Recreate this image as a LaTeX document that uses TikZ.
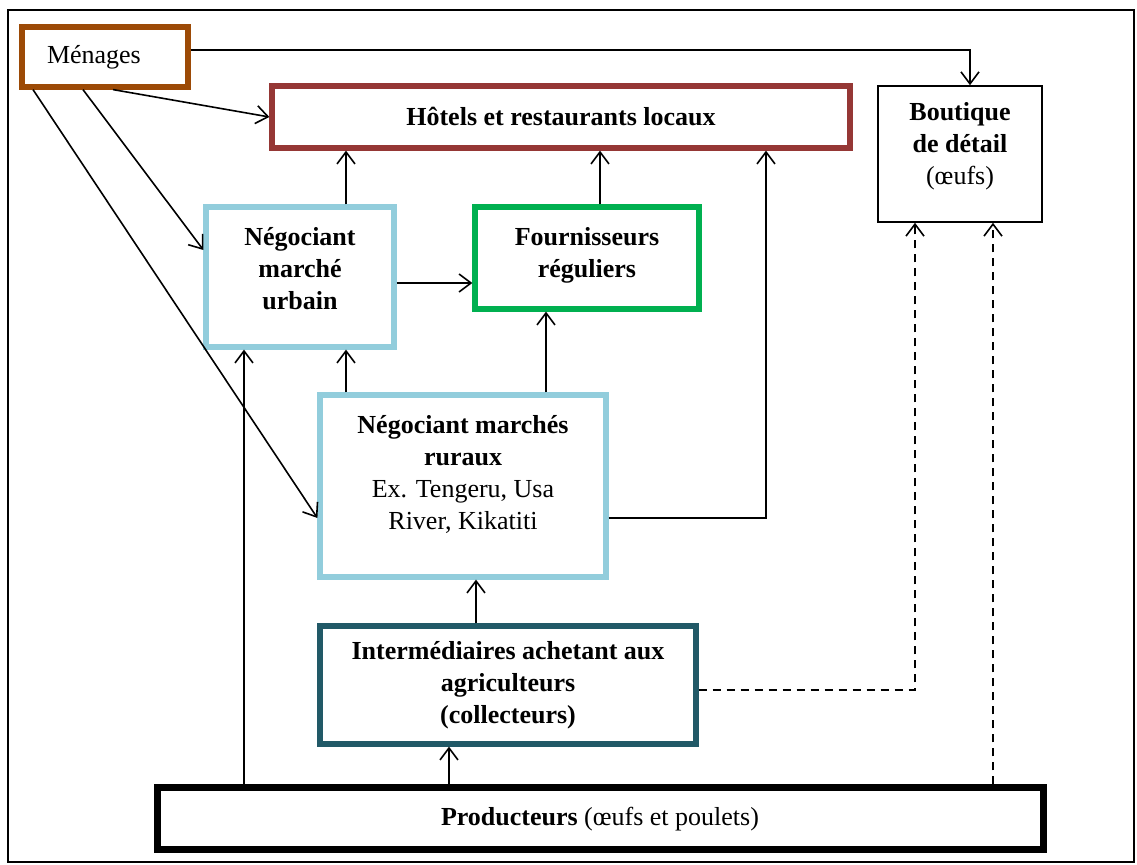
\documentclass[tikz,border=0pt]{standalone}
\usepackage{fontspec}
\setmainfont{Liberation Serif}
\usepackage{xcolor}
\usetikzlibrary{arrows.meta}
\definecolor{brun}{HTML}{9C4A06}
\definecolor{bordeaux}{HTML}{953735}
\definecolor{bleuclair}{HTML}{92CDDC}
\definecolor{vert}{HTML}{00B050}
\definecolor{petrole}{HTML}{215967}

\begin{document}
\begin{tikzpicture}[x=0.5pt,y=-0.5pt,
  box/.style={draw,line width=2.6pt,align=center,inner sep=2pt,font=\fontsize{13}{16}\selectfont},
  flow/.style={-{Straight Barb[length=6pt,width=9pt]},line width=0.8pt},
  dflow/.style={flow,dash pattern=on 4pt off 3pt}]
  \useasboundingbox (0,0) rectangle (1137,865);
  \draw[line width=1pt] (8,10) rectangle (1134,862);

  % acteurs
  \node[box,draw=brun,minimum width=83pt,minimum height=30pt,text width=58pt,align=left,inner xsep=12pt] (menages) at (105,57) {Ménages};
  \node[box,draw=bordeaux,minimum width=289pt,minimum height=31pt] (hotels) at (561,117) {\textbf{Hôtels et restaurants locaux}};
  \node[box,draw=black,line width=0.8pt,minimum width=82pt,minimum height=68pt] (boutique) at (960,154) {\textbf{Boutique}\\\textbf{de détail}\\(œufs)\\[-5pt]};
  \node[box,draw=bleuclair,minimum width=94pt,minimum height=70pt] (urbain) at (300,277) {\textbf{Négociant}\\\textbf{marché}\\\textbf{urbain}\\[-7pt]};
  \node[box,draw=vert,minimum width=112pt,minimum height=51pt] (fourn) at (587,258) {\textbf{Fournisseurs}\\\textbf{réguliers}\\[-10.5pt]};
  \node[box,draw=bleuclair,minimum width=143pt,minimum height=91pt] (ruraux) at (463,486) {\textbf{Négociant marchés}\\\textbf{ruraux}\\Ex. Tengeru, Usa\\River, Kikatiti\\[-2pt]};
  \node[box,draw=petrole,minimum width=188pt,minimum height=59pt] (interm) at (508,685) {\textbf{Intermédiaires achetant aux}\\\textbf{agriculteurs}\\\textbf{(collecteurs)}};
  \node[box,draw=black,line width=3.5pt,minimum width=443pt,minimum height=31pt] (prod) at (600,819) {\textbf{Producteurs} (œufs et poulets)};

  % colonnes et lignes des liaisons
  \coordinate (cA) at (244,0);
  \coordinate (cB) at (346,0);
  \coordinate (cC) at (449,0);
  \coordinate (cD) at (476,0);
  \coordinate (cE) at (546,0);
  \coordinate (cF) at (600,0);
  \coordinate (cG) at (766,0);
  \coordinate (cH) at (915,0);
  \coordinate (cJ) at (970,0);
  \coordinate (cI) at (993,0);
  \coordinate (r1) at (0,50);
  \coordinate (r2) at (0,283);
  \coordinate (r3) at (0,518);
  \coordinate (r4) at (0,690);

  \draw[flow] (menages.east |- r1) -| (boutique.north -| cJ);
  \draw[flow] ([xshift=4pt]menages.south) -- (hotels.west);
  \draw[flow] ([xshift=-11pt]menages.south) -- ([yshift=13.5pt]urbain.west);
  \draw[flow] ([xshift=-36pt]menages.south) -- ([yshift=-16pt]ruraux.west);
  \draw[flow] (urbain.north -| cB) -- (hotels.south -| cB);
  \draw[flow] (fourn.north -| cF) -- (hotels.south -| cF);
  \draw[flow] (ruraux.east |- r3) -| (hotels.south -| cG);
  \draw[flow] (urbain.east |- r2) -- (fourn.west |- r2);
  \draw[flow] (ruraux.north -| cB) -- (urbain.south -| cB);
  \draw[flow] (ruraux.north -| cE) -- (fourn.south -| cE);
  \draw[flow] (interm.north -| cD) -- (ruraux.south -| cD);
  \draw[flow] (prod.north -| cC) -- (interm.south -| cC);
  \draw[flow] (prod.north -| cA) -- (urbain.south -| cA);
  \draw[dflow] (interm.east |- r4) -| (boutique.south -| cH);
  \draw[dflow] (prod.north -| cI) -- (boutique.south -| cI);
\end{tikzpicture}
\end{document}
